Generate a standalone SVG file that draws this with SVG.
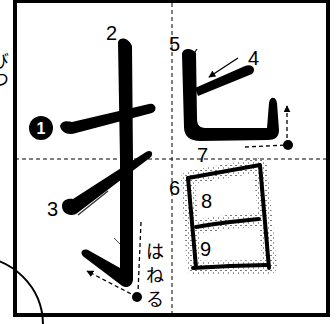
<svg xmlns="http://www.w3.org/2000/svg" width="336" height="324" viewBox="0 0 336 324">
<style>
.frame{fill:none;stroke:#000;stroke-width:4}
.guide{fill:none;stroke:#000;stroke-width:1;stroke-dasharray:4 3}
.ink{fill:#000}
.num{font-family:"Liberation Sans",Arial,sans-serif;font-size:20px;fill:#000}
.jp{font-family:"Noto Sans CJK JP",sans-serif;font-size:18px;fill:#000}
.thin{fill:none;stroke:#000;stroke-width:1.4}
.dash{fill:none;stroke:#000;stroke-width:1.3;stroke-dasharray:4 3}
.box{fill:none;stroke:#000;stroke-width:4;stroke-linejoin:round;stroke-linecap:round}
.halo{fill:none;stroke:url(#stip);stroke-width:14;stroke-linejoin:round;stroke-linecap:round}
</style>
<defs>
<pattern id="stip" width="5" height="5" patternUnits="userSpaceOnUse">
<rect x="0" y="0" width="2" height="1" fill="#777"/>
<rect x="3" y="2" width="1" height="2" fill="#999"/>
</pattern>
<marker id="ah" viewBox="0 0 10 10" refX="9" refY="5" markerWidth="7" markerHeight="7" orient="auto" markerUnits="userSpaceOnUse">
<path d="M0,0 L10,5 L0,10 Z" fill="#000"/>
</marker>
</defs>

<g id="frame">
<polyline class="frame" points="15,0 15,315 328,315 328,0"/>
<line x1="15" y1="1.5" x2="328" y2="1.5" stroke="#000" stroke-width="3"/>
<line class="guide" x1="15" y1="159" x2="328" y2="159"/>
<line class="guide" x1="172" y1="3" x2="172" y2="315"/>
</g>

<g id="edge-marks">
<text class="jp" x="0" y="52" font-size="11" writing-mode="vertical-rl">びつ</text>
<path d="M-25,257 A68,68 0 0 1 43,325" fill="none" stroke="#000" stroke-width="2"/>
</g>

<g id="stroke1">
<path class="ink" d="M60,126 C62,120 68,121 72,122 L149,104 C156,102 158,111 152,113 L76,133 C68,136 61,132 60,126 Z"/>
<circle cx="41" cy="128" r="12" fill="#000"/>
<text x="41" y="134" text-anchor="middle" font-family="Liberation Sans,Arial,sans-serif" font-size="16" font-weight="bold" fill="#fff">1</text>
</g>

<g id="stroke2">
<path class="ink" d="M118,42 C120,36 129,38 132,46 L133,160 L133,280 C132,287 126,289 121,285 L84,257 C79,253 82,248 88,250 L120,268 L120,160 Z"/>
<text class="num" x="106" y="40">2</text>
<line x1="114" y1="238" x2="120" y2="244" stroke="#444" stroke-width="1"/>
</g>

<g id="stroke3">
<path class="ink" d="M62,206 C62,200 68,198 73,199 L146,152 C151,149 154,153 151,157 L76,214 C69,217 62,213 62,206 Z"/>
<line x1="78" y1="215" x2="108" y2="191" stroke="#333" stroke-width="1.5"/>
<text class="num" x="47" y="216">3</text>
</g>

<g id="stroke4">
<path class="ink" d="M195,88 L245,66 C252,63 257,69 252,74 L198,96 Z"/>
<text class="num" x="248" y="65">4</text>
</g>

<g id="stroke5">
<path class="ink" d="M182,55 C182,48 191,47 196,53 L197,118 C197,126 200,128 207,128 L267,128 L269,103 C270,96 276,96 277,103 L279,130 C279,137 275,140 268,140 L200,141 C190,141 184,136 184,127 Z"/>
<line x1="193" y1="55" x2="197" y2="49" stroke="#000" stroke-width="1.2"/>
<text class="num" x="169" y="51">5</text>
</g>

<g id="box">
<polygon class="halo" points="188,178 260,165 270,267 194,268"/>
<polyline class="halo" points="195,227 228,222 260,220"/>
<polyline class="box" points="188,178 260,165 269,268"/>
<line class="box" x1="188" y1="178" x2="196" y2="267"/>
<polyline class="box" points="193,268 230,266 267,265"/>
<path class="box" d="M196,227 C215,224 225,222 259,219" stroke-width="3.5"/>
<text class="num" x="169" y="195">6</text>
<text class="num" x="197" y="162">7</text>
<text class="num" x="201" y="208">8</text>
<text class="num" x="200" y="256">9</text>
</g>

<g id="hane">
<text class="jp" x="146" y="258">は</text>
<text class="jp" x="146" y="282">ね</text>
<text class="jp" x="146" y="306">る</text>
</g>

<g id="connectors">
<line class="thin" x1="238" y1="58" x2="209" y2="77" marker-end="url(#ah)"/>
<polyline class="dash" points="245,147 287,145 287,106" marker-end="url(#ah)"/>
<circle cx="288" cy="145" r="5" fill="#000"/>
<line class="dash" x1="141" y1="222" x2="138" y2="292"/>
<line class="dash" x1="137" y1="297" x2="87" y2="271" marker-end="url(#ah)"/>
<circle cx="137" cy="297" r="5" fill="#000"/>
</g>
</svg>
